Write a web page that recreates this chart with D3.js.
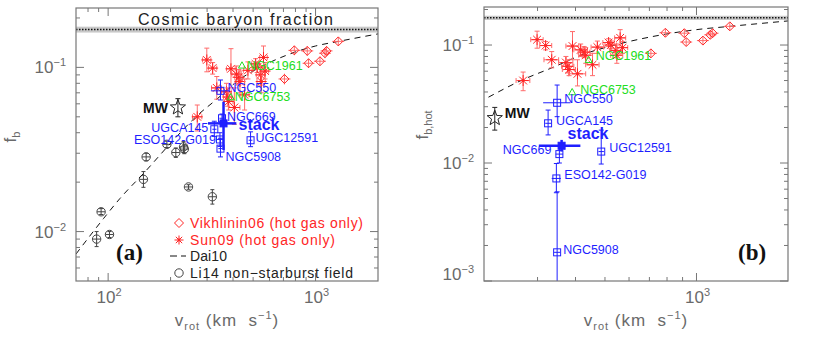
<!DOCTYPE html>
<html lang="en">
<head>
  <meta charset="UTF-8" />
  <title>Baryon fraction vs rotation velocity</title>
  <script src="https://d3js.org/d3.v7.min.js"></script>
  <style>
    body { margin: 0; background: #fff; }
    svg { display: block; font-family: "Liberation Sans", Arial, Helvetica, sans-serif; }
  </style>
</head>
<body>
  <svg id="chart" width="830" height="351"></svg>
  <script>
    // Vikhlinin06 clusters: vrot, fb, fb low, fb high
    const vikhlinin06 = [
      [708, 0.085, 0.081, 0.089],
      [790, 0.127, 0.122, 0.132],
      [912, 0.126, 0.121, 0.131],
      [925, 0.106, 0.102, 0.110],
      [1050, 0.109, 0.105, 0.113],
      [1110, 0.122, 0.117, 0.127],
      [1130, 0.126, 0.121, 0.131],
      [1287, 0.144, 0.139, 0.149]
    ];
    // Sun09 groups: vrot, vrot low, vrot high, fb, fb low, fb high
    const sun09 = [
      [269, 255, 283, 0.050, 0.041, 0.059],
      [299, 285, 313, 0.111, 0.094, 0.131],
      [319, 305, 334, 0.099, 0.091, 0.107],
      [334, 315, 352, 0.075, 0.064, 0.088],
      [372, 352, 392, 0.071, 0.062, 0.080],
      [377, 360, 395, 0.066, 0.058, 0.075],
      [381, 362, 400, 0.062, 0.055, 0.070],
      [391, 372, 410, 0.098, 0.075, 0.130],
      [406, 380, 432, 0.057, 0.045, 0.075],
      [416, 395, 438, 0.091, 0.080, 0.102],
      [427, 408, 446, 0.087, 0.078, 0.097],
      [432, 410, 455, 0.082, 0.070, 0.095],
      [455, 432, 478, 0.068, 0.055, 0.085],
      [472, 450, 495, 0.096, 0.085, 0.108],
      [514, 492, 536, 0.105, 0.097, 0.113],
      [523, 500, 546, 0.100, 0.093, 0.108],
      [543, 518, 568, 0.090, 0.078, 0.102],
      [547, 522, 572, 0.082, 0.070, 0.094],
      [561, 538, 585, 0.115, 0.100, 0.135],
      [571, 548, 594, 0.095, 0.085, 0.107]
    ];
    // Li14 non-starburst field spirals: vrot, fb, fb low, fb high
    const li14 = [
      [88, 0.0090, 0.0081, 0.0100],
      [92.5, 0.0132, 0.0127, 0.0138],
      [101.5, 0.0096, 0.0092, 0.0100],
      [148, 0.0208, 0.0186, 0.0232],
      [152.5, 0.0285, 0.0270, 0.0300],
      [192, 0.0340, 0.0325, 0.0355],
      [212, 0.0303, 0.0283, 0.0323],
      [231, 0.0328, 0.0303, 0.0353],
      [233, 0.0318, 0.0298, 0.0338],
      [244, 0.0187, 0.0181, 0.0193],
      [318, 0.0163, 0.0147, 0.0180]
    ];
    // Dai10 relation
    const dai10 = [
      [70, 0.0073], [95, 0.012], [114, 0.0159], [150, 0.023], [200, 0.0345],
      [267, 0.0505], [334, 0.064], [433, 0.085], [500, 0.095], [717, 0.118],
      [1000, 0.135], [1290, 0.144], [2000, 0.16]
    ];
    // cosmic baryon fraction: low, centre, high
    const cosmicFb = [0.163, 0.170, 0.177];

    // CGM-MASS galaxies
    const galaxyNames = ["NGC550", "NGC669", "UGCA145", "ESO142-G019", "UGC12591", "NGC5908"];
    const galaxyV = [348, 354, 325, 346, 486, 348];
    const galaxyVErr = [[313, 385], [344, 364], [318, 333], [334, 358], [476, 496], [340, 356]];
    const galaxyFbTot = [0.072, 0.049, 0.042, 0.0364, 0.036, 0.032];
    const galaxyFbTotErr = [[0.0633, 0.0838], [0.046, 0.052], [0.038, 0.047], [0.033, 0.040], [0.0329, 0.0405], [0.0285, 0.037]];
    const galaxyFbHot = [0.0324, 0.0119, 0.0217, 0.0074, 0.0125, 0.00175];
    const galaxyFbHotErr = [[0.0247, 0.0458], [0.0100, 0.0138], [0.0173, 0.0281], [0.0056, 0.0099], [0.0098, 0.019], [0.0005, 0.0057]];

    // stacked sample: value, low, high
    const stackV = [360, 303, 415];
    const stackFbTot = [0.0456, 0.0314, 0.0618];
    const stackFbHot = [0.0140, 0.0125, 0.0157];

    // Milky Way
    const mwV = 217;
    const mwFbTot = [0.057, 0.050, 0.0645];
    const mwFbHot = [0.024, 0.019, 0.0296];

    // other massive spirals (green)
    const greenNames = ["NGC1961", "NGC6753"];
    const greenV = [442, 390];
    const greenFbTot = [0.103, 0.066];
    const greenFbHot = [0.075, 0.040];

    const legendLabels = ["Vikhlinin06 (hot gas only)", "Sun09 (hot gas only)", "Dai10", "Li14 non\u2212starburst field"];

    const RED = "#ff2626", RED_ERR = "#ff6b6b", BLUE = "#1f1fff", GREEN = "#22dd22", GREY = "#6a6a6a";

    const svg = d3.select("#chart");

    const panels = [
      {
        id: "a", left: 76, right: 378, top: 8, bottom: 281,
        xDomain: [70, 2000], yDomain: [0.005, 0.23], hot: false,
        yTitle: ["f", "b"], yTitleX: 16, yTitleY: 137,
        galLabels: [[7, -3, "start"], [5, -2, "start"], [-6, -2, "end"], [-4, 0, "end"], [5, -3, "start"], [5, 8, "start"]],
        greenLabels: [[5, 0], [4, -1]],
        stackLabel: [15, 1], mwLabel: [-10, 0, "end"], tag: "(a)", tagX: 116
      },
      {
        id: "b", left: 484, right: 788, top: 7, bottom: 281,
        xDomain: [200, 2000], yDomain: [0.001, 0.21], hot: true,
        yTitle: ["f", "b,hot"], yTitleX: 428, yTitleY: 125,
        galLabels: [[7, -4, "start"], [-8, -5, "end"], [8, -3, "start"], [8, -4, "start"], [8, -4, "start"], [6, -3, "start"]],
        greenLabels: [[7, -4], [8, -2]],
        stackLabel: [6, -13], mwLabel: [10, -5, "start"], tag: "(b)", tagX: 738
      }
    ];

    function errV(g, x, y1, y2, color, w, cap) {
      g.append("line").attr("x1", x).attr("x2", x).attr("y1", y1).attr("y2", y2)
        .attr("stroke", color).attr("stroke-width", w);
      if (cap) {
        [y1, y2].forEach(yy => g.append("line").attr("x1", x - cap).attr("x2", x + cap)
          .attr("y1", yy).attr("y2", yy).attr("stroke", color).attr("stroke-width", w));
      }
    }
    function errH(g, x1, x2, y, color, w, cap) {
      g.append("line").attr("x1", x1).attr("x2", x2).attr("y1", y).attr("y2", y)
        .attr("stroke", color).attr("stroke-width", w);
      if (cap) {
        [x1, x2].forEach(xx => g.append("line").attr("x1", xx).attr("x2", xx)
          .attr("y1", y - cap).attr("y2", y + cap).attr("stroke", color).attr("stroke-width", w));
      }
    }
    function asterisk(g, x, y, r, color) {
      [0, 45, 90, 135].forEach(a => {
        const dx = r * Math.cos(a * Math.PI / 180), dy = r * Math.sin(a * Math.PI / 180);
        g.append("line").attr("x1", x - dx).attr("x2", x + dx).attr("y1", y - dy).attr("y2", y + dy)
          .attr("stroke", color).attr("stroke-width", 1);
      });
      g.append("circle").attr("cx", x).attr("cy", y).attr("r", 1.4).attr("fill", color);
    }
    function diamond(g, x, y, r, color) {
      g.append("path").attr("d", `M${x},${y - r}L${x + r},${y}L${x},${y + r}L${x - r},${y}Z`)
        .attr("fill", "none").attr("stroke", color).attr("stroke-width", 1);
    }
    function square(g, x, y, s, color, filled) {
      g.append("rect").attr("x", x - s / 2).attr("y", y - s / 2).attr("width", s).attr("height", s)
        .attr("fill", filled ? color : "none").attr("stroke", color).attr("stroke-width", 1);
    }
    function triangle(g, x, y, r, color) {
      g.append("path").attr("d", `M${x},${y - r}L${x + r},${y + r * 0.8}L${x - r},${y + r * 0.8}Z`)
        .attr("fill", "none").attr("stroke", color).attr("stroke-width", 1);
    }
    function star(g, x, y, r, color) {
      const pts = d3.range(10).map(i => {
        const rr = i % 2 === 0 ? r : r * 0.42;
        const a = -Math.PI / 2 + i * Math.PI / 5;
        return [x + rr * Math.cos(a), y + rr * Math.sin(a)];
      });
      g.append("path").attr("d", "M" + pts.join("L") + "Z")
        .attr("fill", "none").attr("stroke", color).attr("stroke-width", 1);
    }
    function powText(g, x, y, exp, anchor) {
      const t = g.append("text").attr("x", x).attr("y", y).attr("text-anchor", anchor)
        .attr("font-size", 17).attr("fill", GREY);
      t.append("tspan").text("10");
      t.append("tspan").attr("dy", -7).attr("font-size", 11).text(exp < 0 ? "\u2212" + (-exp) : exp);
    }
    function logTicks(dom) {
      const majors = [], minors = [];
      const lo = Math.floor(Math.log10(dom[0])), hi = Math.ceil(Math.log10(dom[1]));
      for (let e = lo; e <= hi; e++) {
        const b = Math.pow(10, e);
        if (b >= dom[0] * 0.999 && b <= dom[1] * 1.001) majors.push({ v: b, e: e });
        for (let k = 2; k <= 9; k++) {
          const v = k * b;
          if (v > dom[0] * 1.001 && v < dom[1] * 0.999) minors.push(v);
        }
      }
      return { majors, minors };
    }

    function drawPanel(p) {
      const x = d3.scaleLog().domain(p.xDomain).range([p.left, p.right]);
      const y = d3.scaleLog().domain(p.yDomain).range([p.bottom, p.top]);
      const g = svg.append("g");
      const clipId = "clip-" + p.id;
      svg.append("clipPath").attr("id", clipId).append("rect")
        .attr("x", p.left).attr("y", p.top).attr("width", p.right - p.left).attr("height", p.bottom - p.top);
      const plot = g.append("g").attr("clip-path", `url(#${clipId})`);

      // cosmic baryon fraction band
      plot.append("rect").attr("x", p.left).attr("width", p.right - p.left)
        .attr("y", y(cosmicFb[2])).attr("height", y(cosmicFb[0]) - y(cosmicFb[2]))
        .attr("fill", "#c8c8c8");
      plot.append("line").attr("x1", p.left).attr("x2", p.right)
        .attr("y1", y(cosmicFb[1])).attr("y2", y(cosmicFb[1]))
        .attr("stroke", "#111").attr("stroke-width", 1.5).attr("stroke-dasharray", "1.5,1.5");

      // Li14 circles (total baryons, panel a only)
      if (!p.hot) {
        li14.forEach(d => {
          const cx = x(d[0]), cy = y(d[1]);
          errV(plot, cx, y(d[2]), y(d[3]), "#444", 1, 2);
          errH(plot, cx - 4, cx + 4, cy, "#444", 1, 0);
          plot.append("circle").attr("cx", cx).attr("cy", cy).attr("r", 4.2)
            .attr("fill", "none").attr("stroke", "#444").attr("stroke-width", 1);
        });
      }

      // Dai10 dashed relation
      const line = d3.line().x(d => x(d[0])).y(d => y(d[1])).curve(d3.curveMonotoneX);
      plot.append("path").attr("d", line(dai10)).attr("fill", "none")
        .attr("stroke", "#111").attr("stroke-width", 1).attr("stroke-dasharray", "6,5");

      // Vikhlinin06 diamonds
      vikhlinin06.forEach(d => {
        const cx = x(d[0]), cy = y(d[1]);
        errV(plot, cx, y(d[2]) + 2, y(d[3]) - 2, RED_ERR, 1, 0);
        errH(plot, cx - 6, cx + 6, cy, RED_ERR, 1, 0);
        diamond(plot, cx, cy, 4.5, RED);
      });

      // Sun09 asterisks
      sun09.forEach(d => {
        const cx = x(d[0]), cy = y(d[3]);
        errV(plot, cx, y(d[4]), y(d[5]), RED_ERR, 1, 2.5);
        errH(plot, x(d[1]), x(d[2]), cy, RED_ERR, 1, 2.5);
        asterisk(plot, cx, cy, 5.5, RED);
      });

      // green spirals
      const gf = p.hot ? greenFbHot : greenFbTot;
      greenNames.forEach((n, i) => {
        const cx = x(greenV[i]), cy = y(gf[i]);
        triangle(plot, cx, cy, 3.5, GREEN);
        g.append("text").attr("x", cx + p.greenLabels[i][0]).attr("y", cy + p.greenLabels[i][1])
          .attr("dy", "0.36em").attr("font-size", 12.5).attr("fill", GREEN).text(n);
      });

      // CGM-MASS galaxies
      const fb = p.hot ? galaxyFbHot : galaxyFbTot;
      const fbErr = p.hot ? galaxyFbHotErr : galaxyFbTotErr;
      galaxyNames.forEach((n, i) => {
        const cx = x(galaxyV[i]), cy = y(fb[i]);
        errV(plot, cx, y(fbErr[i][0]), y(fbErr[i][1]), BLUE, 1, 2.5);
        errH(plot, x(galaxyVErr[i][0]), x(galaxyVErr[i][1]), cy, BLUE, 1, 0);
        square(plot, cx, cy, 7, BLUE, false);
        const lb = p.galLabels[i];
        g.append("text").attr("x", cx + lb[0]).attr("y", cy + lb[1]).attr("dy", "0.36em")
          .attr("text-anchor", lb[2]).attr("font-size", 12.5).attr("fill", BLUE).text(n);
      });

      // stack
      const sf = p.hot ? stackFbHot : stackFbTot;
      const sx = x(stackV[0]), sy = y(sf[0]);
      errH(plot, x(stackV[1]), x(stackV[2]), sy, BLUE, 2.5, 0);
      errV(plot, sx, y(sf[1]), y(sf[2]), BLUE, 2.5, 0);
      square(plot, sx, sy, 7, BLUE, true);
      g.append("text").attr("x", sx + p.stackLabel[0]).attr("y", sy + p.stackLabel[1]).attr("dy", "0.36em")
        .attr("font-size", 16).attr("font-weight", "bold").attr("fill", BLUE).text("stack");

      // Milky Way
      const mf = p.hot ? mwFbHot : mwFbTot;
      const mx = x(mwV), my = y(mf[0]);
      errV(plot, mx, y(mf[1]), y(mf[2]), "#222", 1, 2.5);
      star(plot, mx, my, 8, "#222");
      g.append("text").attr("x", mx + p.mwLabel[0]).attr("y", my + p.mwLabel[1]).attr("dy", "0.36em")
        .attr("text-anchor", p.mwLabel[2]).attr("font-size", 14).attr("font-weight", "bold")
        .attr("fill", "#111").text("MW");

      // frame and ticks
      g.append("rect").attr("x", p.left).attr("y", p.top)
        .attr("width", p.right - p.left).attr("height", p.bottom - p.top)
        .attr("fill", "none").attr("stroke", "#777").attr("stroke-width", 1.2);
      const xt = logTicks(p.xDomain), yt = logTicks(p.yDomain);
      const tk = (x1, y1, x2, y2) => g.append("line").attr("x1", x1).attr("y1", y1)
        .attr("x2", x2).attr("y2", y2).attr("stroke", "#777").attr("stroke-width", 1);
      xt.majors.forEach(t => { const xx = x(t.v); tk(xx, p.bottom, xx, p.bottom - 8); tk(xx, p.top, xx, p.top + 8); });
      xt.minors.forEach(v => { const xx = x(v); tk(xx, p.bottom, xx, p.bottom - 4); tk(xx, p.top, xx, p.top + 4); });
      yt.majors.forEach(t => { const yy = y(t.v); tk(p.left, yy, p.left + 8, yy); tk(p.right, yy, p.right - 8, yy); });
      yt.minors.forEach(v => { const yy = y(v); tk(p.left, yy, p.left + 4, yy); tk(p.right, yy, p.right - 4, yy); });

      xt.majors.forEach(t => powText(g, x(t.v) + 1, 303, t.e, "middle"));
      yt.majors.forEach(t => powText(g, p.left - 10, Math.min(y(t.v), p.bottom - 7) + 6, t.e, "end"));

      // axis titles
      const xTitle = g.append("text").attr("x", (p.left + p.right) / 2).attr("y", 326)
        .attr("text-anchor", "middle").attr("font-size", 17).attr("letter-spacing", 1)
        .attr("fill", GREY);
      xTitle.append("tspan").text("v");
      xTitle.append("tspan").attr("dy", 4).attr("font-size", 11).text("rot");
      xTitle.append("tspan").attr("dy", -4).text("\u00a0(km\u00a0 s");
      xTitle.append("tspan").attr("dy", -7).attr("font-size", 11).text("\u22121");
      xTitle.append("tspan").attr("dy", 7).text(")");

      const yTitle = g.append("text")
        .attr("transform", `translate(${p.yTitleX},${p.yTitleY}) rotate(-90)`)
        .attr("text-anchor", "middle").attr("font-size", 17).attr("fill", GREY);
      yTitle.append("tspan").text(p.yTitle[0]);
      yTitle.append("tspan").attr("dy", 4).attr("font-size", 11).text(p.yTitle[1]);

      // panel tag
      g.append("text").attr("x", p.tagX).attr("y", 260)
        .attr("font-family", "'Liberation Serif', 'Times New Roman', serif")
        .attr("font-size", 23).attr("font-weight", "bold").attr("fill", "#111").text(p.tag);

      return { x, y, g };
    }

    const pa = drawPanel(panels[0]);
    drawPanel(panels[1]);

    // title band text (panel a)
    pa.g.append("text").attr("x", 138).attr("y", 25)
      .attr("font-size", 16).attr("fill", "#222")
      .attr("textLength", 195).attr("lengthAdjust", "spacing")
      .text("Cosmic baryon fraction");

    // legend (panel a)
    const lg = pa.g.append("g");
    const rowsY = [223, 240, 256, 273];
    const rowsW = [173, 145, 37, 163];
    diamond(lg, 179, rowsY[0], 4.5, RED);
    asterisk(lg, 179, rowsY[1], 4.5, RED);
    lg.append("line").attr("x1", 170).attr("x2", 186).attr("y1", rowsY[2]).attr("y2", rowsY[2])
      .attr("stroke", "#111").attr("stroke-dasharray", "7,4");
    lg.append("circle").attr("cx", 179).attr("cy", rowsY[3]).attr("r", 4.2)
      .attr("fill", "none").attr("stroke", "#444");
    legendLabels.forEach((t, i) => {
      lg.append("text").attr("x", 190).attr("y", rowsY[i]).attr("dy", "0.36em")
        .attr("font-size", 14).attr("fill", i < 2 ? RED : "#222")
        .attr("textLength", rowsW[i]).attr("lengthAdjust", "spacing").text(t);
    });
  </script>
</body>
</html>
